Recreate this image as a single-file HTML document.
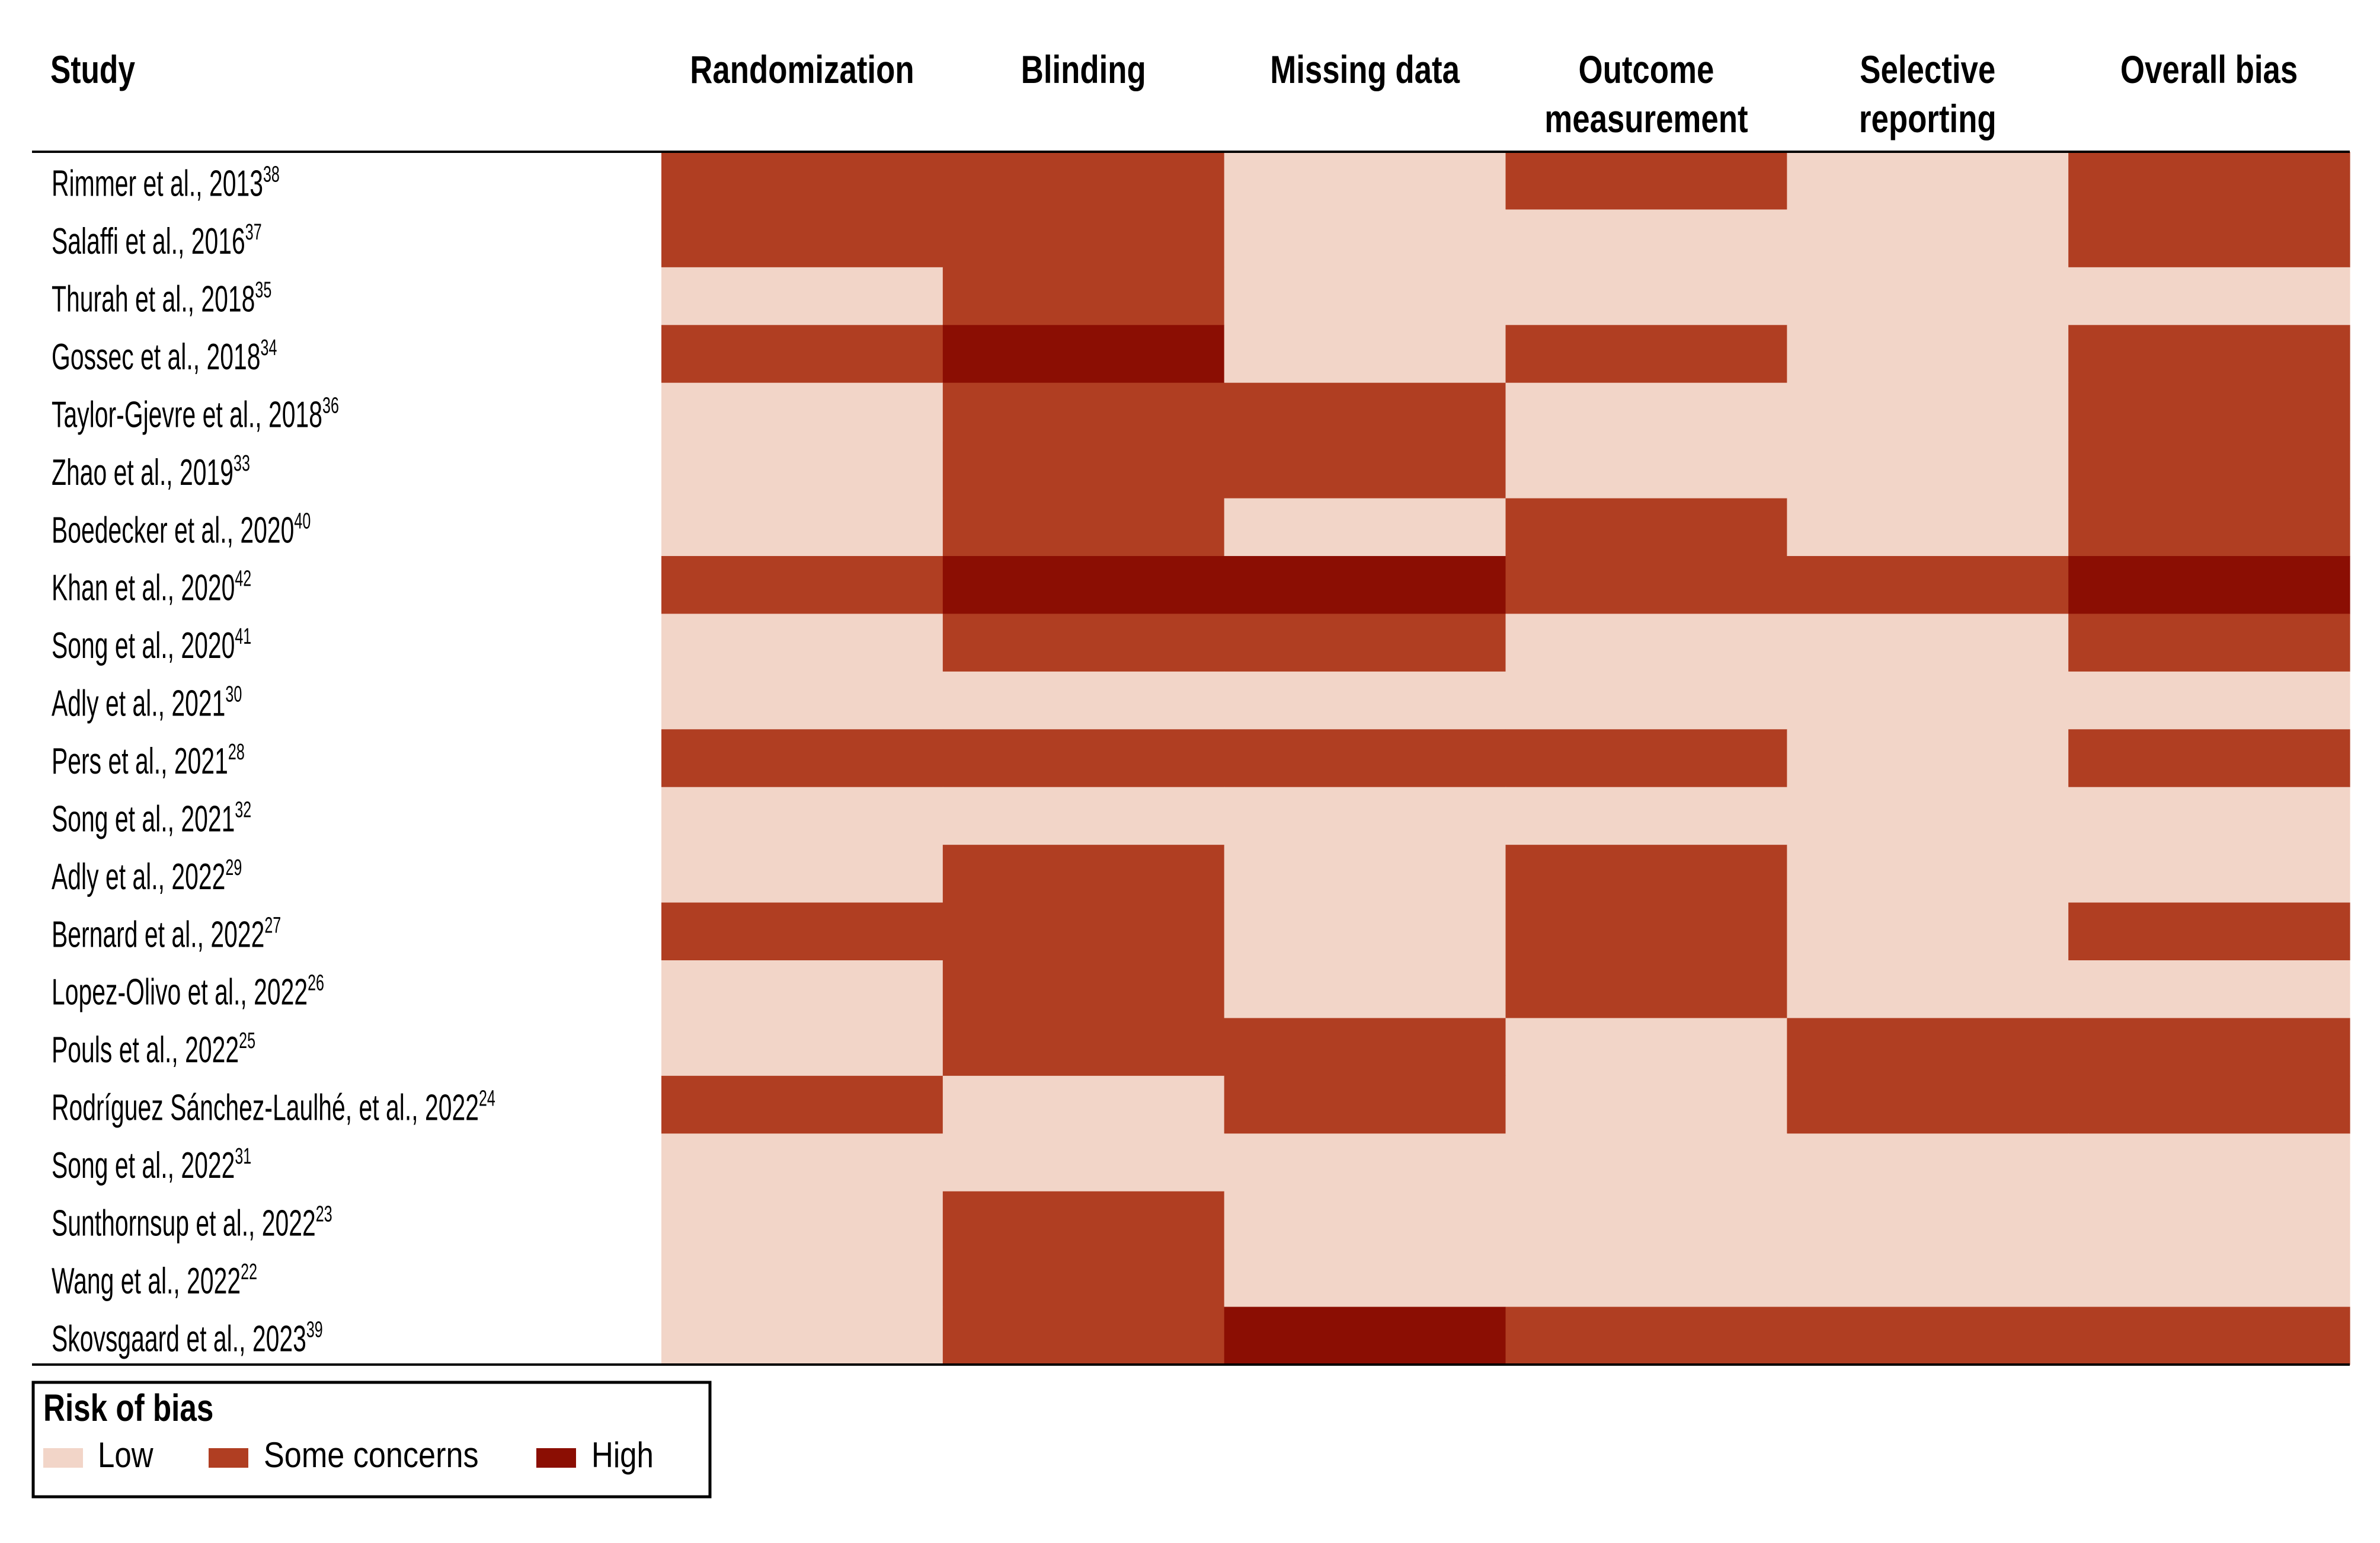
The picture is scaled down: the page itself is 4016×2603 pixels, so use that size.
<!DOCTYPE html>
<html><head><meta charset="utf-8"><style>
html,body{margin:0;padding:0;background:#fff;}
svg text{font-family:"Liberation Sans",sans-serif;fill:#000;}
</style></head><body>
<svg id="chart" xmlns="http://www.w3.org/2000/svg" width="4016" height="2598" viewBox="0 0 4016 2598">
<rect width="4016" height="2598" fill="#fff"/>
<g id="headers"></g>
<g id="cells"></g>
<g id="labels"></g>
<line x1="54" y1="256" x2="3965" y2="256" stroke="#000" stroke-width="4"/>
<line x1="54" y1="2302" x2="3965" y2="2302" stroke="#000" stroke-width="4"/>
<g>
<rect x="56" y="2332" width="1142" height="193" fill="none" stroke="#000" stroke-width="5"/>
<text transform="translate(73,2397) scale(0.8,1)" font-size="64" font-weight="bold">Risk of bias</text>
<rect x="73" y="2443" width="67" height="33" fill="#f2d5c8"/>
<text transform="translate(165,2475) scale(0.85,1)" font-size="60">Low</text>
<rect x="352" y="2443" width="67" height="33" fill="#b03e22"/>
<text transform="translate(445,2475) scale(0.87,1)" font-size="60">Some concerns</text>
<rect x="905" y="2443" width="67" height="33" fill="#8b0e03"/>
<text transform="translate(998,2475) scale(0.85,1)" font-size="60">High</text>
</g>
</svg>
<script>
const domains = [["Randomization"],["Blinding"],["Missing data"],["Outcome","measurement"],["Selective","reporting"],["Overall bias"]];
const studies = ["Rimmer et al., 2013","Salaffi et al., 2016","Thurah et al., 2018","Gossec et al., 2018","Taylor-Gjevre et al., 2018","Zhao et al., 2019","Boedecker et al., 2020","Khan et al., 2020","Song et al., 2020","Adly et al., 2021","Pers et al., 2021","Song et al., 2021","Adly et al., 2022","Bernard et al., 2022","Lopez-Olivo et al., 2022","Pouls et al., 2022","Rodríguez Sánchez-Laulhé, et al., 2022","Song et al., 2022","Sunthornsup et al., 2022","Wang et al., 2022","Skovsgaard et al., 2023"];
const refs = ["38","37","35","34","36","33","40","42","41","30","28","32","29","27","26","25","24","31","23","22","39"];
const ratings = [
[1,1,0,1,0,1],[1,1,0,0,0,1],[0,1,0,0,0,0],[1,2,0,1,0,1],[0,1,1,0,0,1],
[0,1,1,0,0,1],[0,1,0,1,0,1],[1,2,2,1,1,2],[0,1,1,0,0,1],[0,0,0,0,0,0],
[1,1,1,1,0,1],[0,0,0,0,0,0],[0,1,0,1,0,0],[1,1,0,1,0,1],[0,1,0,1,0,0],
[0,1,1,0,1,1],[1,0,1,0,1,1],[0,0,0,0,0,0],[0,1,0,0,0,0],[0,1,0,0,0,0],
[0,1,2,1,1,1]];
const levelColors = ["#f2d5c8","#b03e22","#8b0e03"];
const NS="http://www.w3.org/2000/svg";
const x0=1116, x1=3965, y0=256, y1=2302;
const colW=(x1-x0)/domains.length, rowH=(y1-y0)/studies.length;
const xScale=i=>x0+i*colW, yScale=i=>y0+i*rowH;
const cells=document.getElementById('cells'), labels=document.getElementById('labels'), headers=document.getElementById('headers');
function txt(parent,x,y,sx,size,weight,anchor){
  const t=document.createElementNS(NS,'text');
  t.setAttribute('transform',`translate(${x},${y}) scale(${sx},1)`);
  t.setAttribute('font-size',size);
  if(weight)t.setAttribute('font-weight',weight);
  if(anchor)t.setAttribute('text-anchor',anchor);
  parent.appendChild(t);return t;
}
const sh=txt(headers,85,140,0.78,66,'bold');
sh.textContent='Study';


domains.forEach((d,j)=>{
  d.forEach((line,k)=>{
    const t=txt(headers,xScale(j)+colW/2,140+k*83,0.8,66,'bold','middle');
    t.textContent=line;
    
    
  });
});
ratings.forEach((row,i)=>{
  row.forEach((v,j)=>{
    const r=document.createElementNS(NS,'rect');
    r.setAttribute('x',xScale(j));r.setAttribute('y',yScale(i));
    r.setAttribute('width',colW+0.6);r.setAttribute('height',rowH+0.6);
    r.setAttribute('fill',levelColors[v]);
    
    
    cells.appendChild(r);
  });
});
studies.forEach((s,i)=>{
  const t=txt(labels,87,yScale(i)+rowH/2+26,0.66,62,null);
  
  
  t.appendChild(document.createTextNode(s));
  const sp=document.createElementNS(NS,'tspan');
  sp.setAttribute('font-size','38');sp.setAttribute('dy','-24');
  sp.textContent=refs[i];
  t.appendChild(sp);
});
</script>
</body></html>
